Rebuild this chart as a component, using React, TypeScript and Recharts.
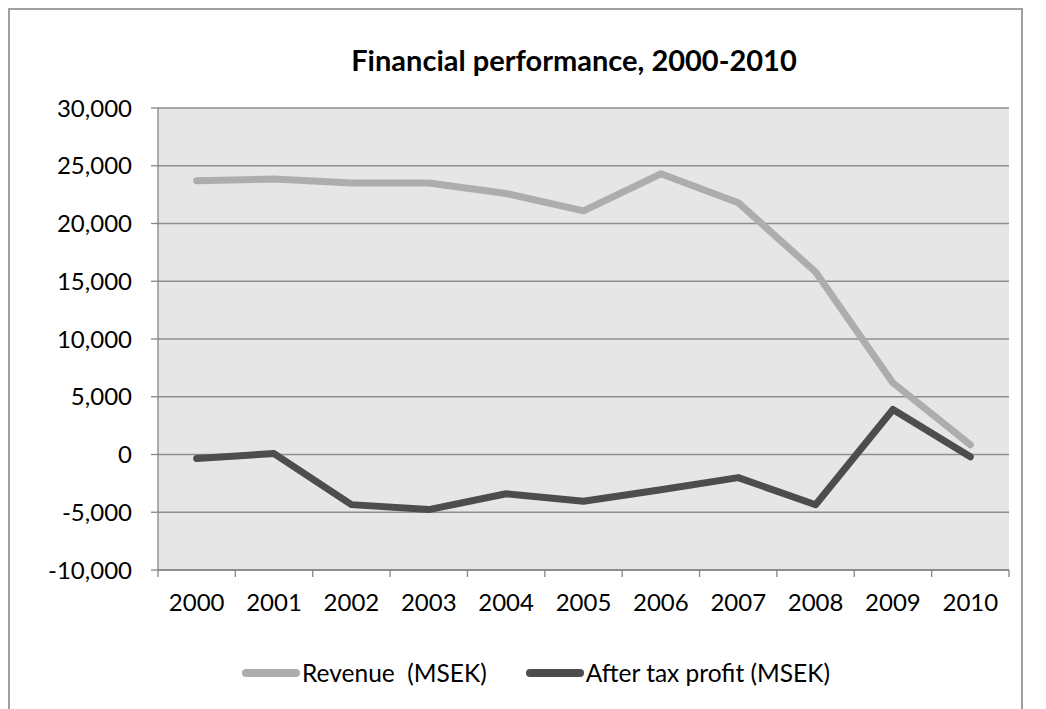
import React from "react";
import { CartesianGrid, Legend, Line, LineChart, XAxis, YAxis } from "recharts";

// values (MSEK)
const years = ["2000", "2001", "2002", "2003", "2004", "2005", "2006", "2007", "2008", "2009", "2010"];
const revenue = [23700, 23850, 23500, 23500, 22600, 21100, 24300, 21800, 15800, 6200, 850];
const afterTaxProfit = [-350, 80, -4340, -4770, -3400, -4050, -3050, -2000, -4350, 3900, -200];
const yTicks = [-10000, -5000, 0, 5000, 10000, 15000, 20000, 25000, 30000];

const seriesNames = ["Revenue  (MSEK)", "After tax profit (MSEK)"];
const seriesColors = ["#adadad", "#4d4d4d"];

const data = years.map((year, i) => ({
  year,
  revenue: revenue[i],
  profit: afterTaxProfit[i],
}));

const W = 1011;
const H = 710;
const margin = { top: 98, right: 12, bottom: 70, left: 0 };
const Y_WIDTH = 148;
const TICK = 7;
const GAP = 17;
const FONT = "Lato, 'Open Sans', sans-serif";
const AXIS = "#868686";

function YearTick(props: any) {
  const { x, y, payload, index, visibleTicksCount } = props;
  const plotW = W - margin.left - margin.right - Y_WIDTH;
  const half = payload.offset || plotW / years.length / 2;
  const axisY = y - TICK - GAP;
  const last = index === visibleTicksCount - 1;
  return (
    <g>
      <line x1={x - half} x2={x - half} y1={axisY} y2={axisY + TICK} stroke={AXIS} strokeWidth={1.3} />
      {last && <line x1={x + half} x2={x + half} y1={axisY} y2={axisY + TICK} stroke={AXIS} strokeWidth={1.3} />}
      <text x={x} y={y} dy="0.71em" textAnchor="middle" fill="#000" fontSize={24} fontFamily={FONT}>
        {payload.value}
      </text>
    </g>
  );
}

function LegendBox() {
  return (
    <div style={{ display: "flex", alignItems: "center", fontFamily: FONT, fontSize: 24.5, color: "#000", whiteSpace: "pre" }}>
      {seriesNames.map((name, i) => (
        <div key={name} style={{ display: "flex", alignItems: "center", marginRight: i === 0 ? 39 : 0 }}>
          <span style={{ display: "inline-block", width: 58, height: 8, borderRadius: 4, background: seriesColors[i], marginRight: 2 }} />
          <span>{name}</span>
        </div>
      ))}
    </div>
  );
}

export default function App() {
  return (
    <div style={{ position: "relative", width: W, height: H, border: "2px solid #a0a0a0", borderBottom: "none", background: "#fff" }}>
      <div
        style={{
          position: "absolute",
          top: 32,
          left: 0,
          width: 1128,
          textAlign: "center",
          fontFamily: FONT,
          fontWeight: 700,
          fontSize: 29,
          color: "#000",
          zIndex: 2,
        }}
      >
        Financial performance, 2000-2010
      </div>
      <LineChart width={W} height={H} data={data} margin={margin}>
        <CartesianGrid vertical={false} fill="#e6e6e6" stroke="#8e8e8e" strokeWidth={1.3} />
        <XAxis
          dataKey="year"
          scale="band"
          height={50}
          tickLine={false}
          tickSize={TICK}
          tickMargin={GAP}
          axisLine={{ stroke: AXIS, strokeWidth: 1.3 }}
          tick={<YearTick />}
          interval={0}
        />
        <YAxis
          width={Y_WIDTH}
          domain={[-10000, 30000]}
          ticks={yTicks}
          tickSize={TICK}
          tickMargin={19}
          tickLine={{ stroke: AXIS, strokeWidth: 1.3 }}
          axisLine={{ stroke: AXIS, strokeWidth: 1.3 }}
          tick={{ fill: "#000", fontSize: 24, fontFamily: FONT }}
          tickFormatter={(v: number) => v.toLocaleString("en-US")}
        />
        <Line
          type="linear"
          dataKey="revenue"
          name={seriesNames[0]}
          stroke={seriesColors[0]}
          strokeWidth={7}
          strokeLinecap="round"
          strokeLinejoin="round"
          dot={false}
          activeDot={false}
          isAnimationActive={false}
        />
        <Line
          type="linear"
          dataKey="profit"
          name={seriesNames[1]}
          stroke={seriesColors[1]}
          strokeWidth={7}
          strokeLinecap="round"
          strokeLinejoin="round"
          dot={false}
          activeDot={false}
          isAnimationActive={false}
        />
        <Legend
          verticalAlign="bottom"
          height={30}
          content={() => <LegendBox />}
          wrapperStyle={{ left: 232, bottom: 32, width: "auto" }}
        />
      </LineChart>
    </div>
  );
}
